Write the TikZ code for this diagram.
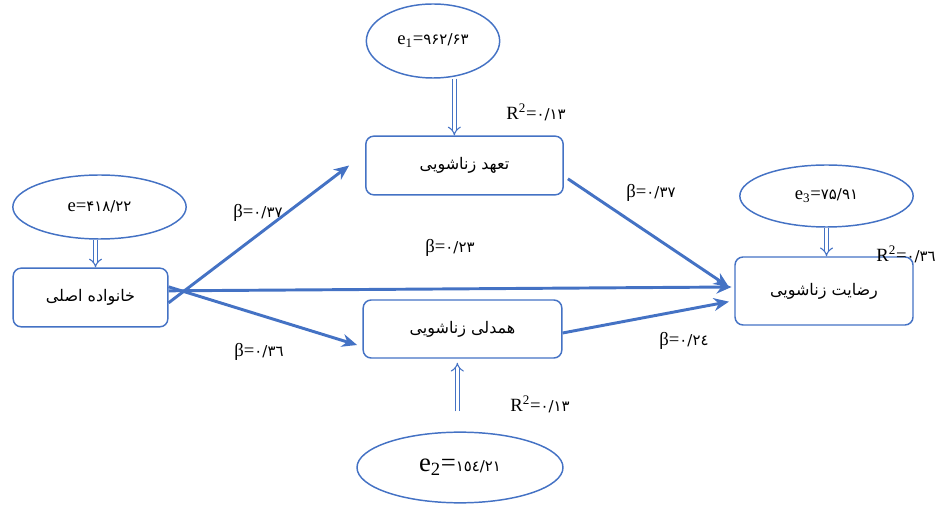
\documentclass[tikz,border=0pt]{standalone}
\usepackage{fontspec}
\setmainfont{Liberation Serif}
\newfontfamily\farsi[Script=Arabic]{DejaVu Sans}
\newfontfamily\farsinum[Script=Arabic,Scale=0.8]{DejaVu Sans}
\TeXXeTstate=1
\usepackage{tikz}
\usetikzlibrary {arrows.meta,shapes.geometric}
\definecolor{lineblue}{HTML}{4472C4}
\newcommand{\fa}[1]{{\farsi\beginR #1\endR}}
\newcommand{\fnum}[1]{{\farsinum #1}}

\begin{document}
\begin{tikzpicture} [x = 0.75pt, y = -0.75pt, font=\fontsize{14}{16}\selectfont]
        %style
        \tikzset{box/.style = {shape=rectangle, draw=lineblue, rounded corners=6pt, line width=1.1pt, font=\fontsize{12}{14}\selectfont, text opacity=1}}
        \tikzset{err/.style = {shape=ellipse, draw=lineblue, line width=1.1pt, inner sep=0pt}}
        \tikzset{effect/.style = {draw=lineblue, line width=2.2pt, -{Stealth[length=4mm, width=3.4mm]}}}
        \tikzset{resid/.style = {draw=lineblue, line width=0.8pt, double=white, double distance=2.6pt, -{Implies}}}
        \useasboundingbox (0,0) rectangle (942,505);
        \node[box, minimum width=116pt, minimum height=44pt]   (family)  at (90.5,297.5) {\fa{خانواده اصلی}};
        \node[box, minimum width=148pt, minimum height=44pt]   (commit)  at (464.5,165.5) {\fa{تعهد زناشویی}};
        \node[box, minimum width=149pt, minimum height=43.5pt] (empathy) at (462.5,329)   {\fa{همدلی زناشویی}};
        \node[box, minimum width=133.5pt, minimum height=51pt] (satisf)  at (824,291)     {\fa{رضایت زناشویی}};
        \node[err, minimum width=130pt, minimum height=48pt]   (e)      at (99.5,207)   {e=\fnum{۴۱۸/۲۲}};
        \node[err, minimum width=100pt, minimum height=55.5pt] (eone)   at (433,41)     {e\textsubscript{1}=\fnum{۹۶۲/۶۳}};
        \node[err, minimum width=154.5pt, minimum height=53pt] (etwo)   at (460,467.5)  {{\fontsize{20}{22}\selectfont e\textsubscript{2}=}\fnum{١٥٤/٢١}};
        \node[err, minimum width=130pt, minimum height=46.5pt] (ethree) at (826.5,196)  {e\textsubscript{3}=\fnum{۷۵/۹۱}};
        \node (rone)   at (536,112) {R\textsuperscript{2}=\fnum{۰/۱۳}};
        \node (rtwo)   at (540,404) {R\textsuperscript{2}=\fnum{۰/۱۳}};
        \node (rthree) at (906,254) {R\textsuperscript{2}=\fnum{۰/۳٦}};
        \node (bfc) at (258,213) {β=\fnum{۰/۳۷}};
        \node (bfs) at (450,248) {β=\fnum{۰/۲۳}};
        \node (bfe) at (259,352) {β=\fnum{۰/۳٦}};
        \node (bcs) at (651,193) {β=\fnum{۰/۳۷}};
        \node (bes) at (684,341) {β=\fnum{۰/۲٤}};
        \draw [effect] ([yshift=-4pt]family.east) to ([xshift=-12pt]commit.west);
        \draw [effect] ([yshift=8pt]family.east) to ([xshift=-4pt,yshift=-12pt]empathy.west);
        \draw [effect] ([yshift=5pt]family.east) to ([xshift=-2pt,yshift=3pt]satisf.west);
        \draw [effect] ([xshift=3pt,yshift=-10pt]commit.east) to ([xshift=-4pt,yshift=3pt]satisf.west);
        \draw [effect] ([yshift=-3pt]empathy.east) to ([xshift=-4pt,yshift=-8pt]satisf.west);
        \draw [resid] ([xshift=-3pt]e.south) to ([xshift=-3pt]e.south |- family.north);
        \draw [resid] ([xshift=16pt]eone.south) to ([xshift=16pt]eone.south |- commit.north);
        \draw [resid] (ethree.south) to (ethree.south |- satisf.north);
        \draw [resid, shorten <=15pt, shorten >=3pt] ([xshift=-2pt]etwo.north) to ([xshift=-2pt]etwo.north |- empathy.south);
\end{tikzpicture}
\end{document}
